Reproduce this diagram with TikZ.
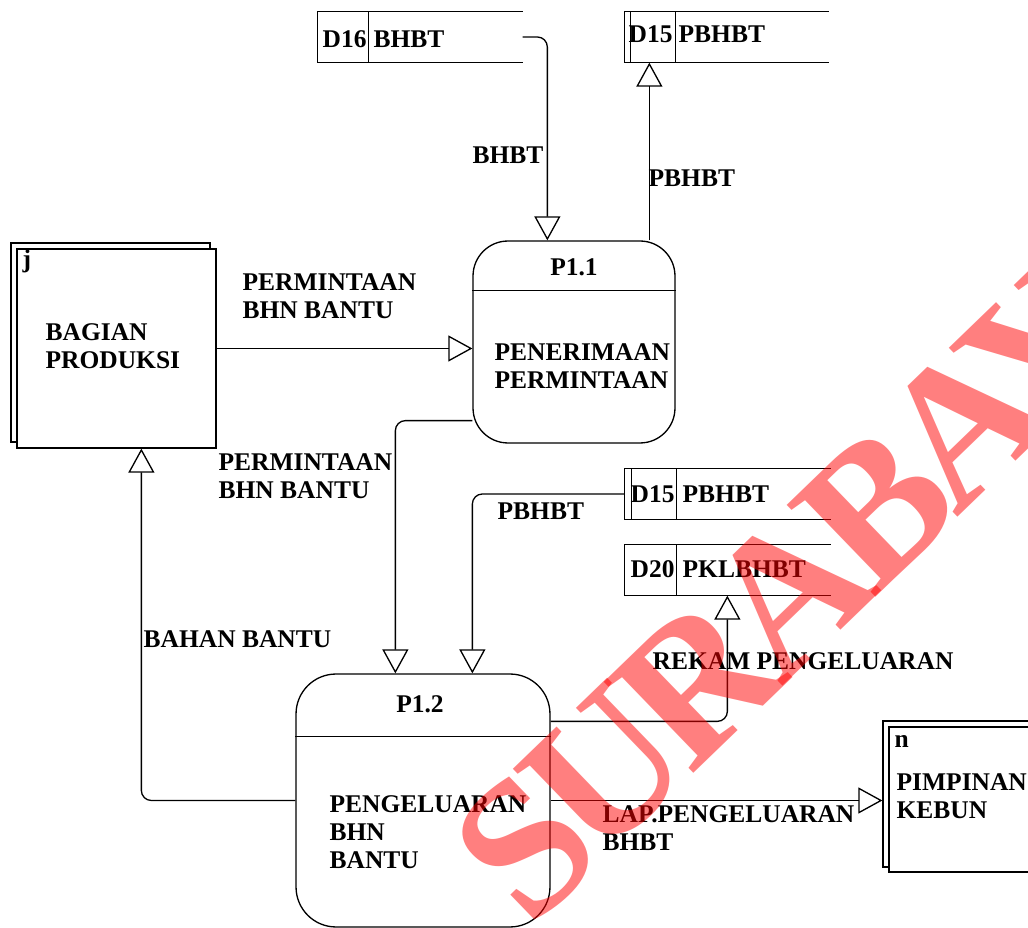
\documentclass[tikz,border=0pt]{standalone}
\usepackage{fontspec}
\setmainfont{Liberation Serif}
\usetikzlibrary{arrows.meta,positioning,calc}

\begin{document}
\begin{tikzpicture}[
  x=0.02cm,y=-0.02cm,
  line width=0.75pt,
  lbl/.style={anchor=north west, inner sep=0pt, align=left, font=\fontsize{14.5}{15.9}\selectfont\bfseries},
  proc/.style={draw, rectangle, inner sep=0pt},
  ext/.style={draw, fill=white, rectangle, inner sep=0pt},
  store/.style={rectangle, inner sep=0pt, minimum height=1cm},
  flow/.style={-{Triangle[open,length=4.8mm,width=5.2mm]}, rounded corners=0.2cm},
  wm/.style={inner sep=0pt, text=red, text opacity=0.5, rotate=44, font=\fontsize{111}{111}\selectfont\bfseries\addfontfeature{LetterSpace=-7}}
]
\useasboundingbox (0,0) rectangle (1028,928);
% data stores
\node[store, minimum width=4.08cm] (d16) at (420,37) {};
\node[store, minimum width=4.06cm] (d15a) at (726.5,37) {};
\node[store, minimum width=4.10cm] (d15b) at (727.5,494) {};
\node[store, minimum width=4.10cm] (d20) at (727.5,570) {};
\draw (d16.north east) -- (d16.north west) -- (d16.south west) -- (d16.south east);
\draw ($(d16.north west)+(51,0)$) -- ($(d16.south west)+(51,0)$);
\draw (d15a.north east) -- (d15a.north west) -- (d15a.south west) -- (d15a.south east);
\draw ($(d15a.north west)+(6,0)$) -- ($(d15a.south west)+(6,0)$);
\draw ($(d15a.north west)+(51,0)$) -- ($(d15a.south west)+(51,0)$);
\draw (d15b.north east) -- (d15b.north west) -- (d15b.south west) -- (d15b.south east);
\draw ($(d15b.north west)+(7,0)$) -- ($(d15b.south west)+(7,0)$);
\draw ($(d15b.north west)+(52,0)$) -- ($(d15b.south west)+(52,0)$);
\draw (d20.north east) -- (d20.north west) -- (d20.south west) -- (d20.south east);
\draw ($(d20.north west)+(52,0)$) -- ($(d20.south west)+(52,0)$);
\node[lbl] (d16id) at (322,30) {D16};
\node[lbl] (d16nm) at (373,30) {BHBT};
\node[lbl] (d15aid) at (628,25) {D15};
\node[lbl] (d15anm) at (678,25) {PBHBT};
\node[lbl] (d15bid) at (630,485) {D15};
\node[lbl] (d15bnm) at (682,485) {PBHBT};
\node[lbl] (d20id) at (630,560) {D20};
\node[lbl] (d20nm) at (682,560) {PKLBHBT};
% external entities
\node[ext, minimum width=3.98cm, minimum height=3.98cm] (bagianb) at (110.5,342.5) {};
\node[ext, minimum width=3.98cm, minimum height=3.98cm] (bagian) at (116.5,348.5) {};
\node[lbl, anchor=base west] (bagianid) at (22,268) {j};
\node[lbl] (bagiannm) at (45,323) {BAGIAN\\PRODUKSI};
\node[ext, minimum width=3.14cm, minimum height=2.92cm] (pimpinanb) at (961.5,794) {};
\node[ext, minimum width=3.14cm, minimum height=2.90cm] (pimpinan) at (967.5,799.5) {};
\node[lbl, anchor=base west] (pimpinanid) at (894,747) {n};
\node[lbl] (pimpinannm) at (896,773) {PIMPINAN\\KEBUN};
% processes
\node[proc, rounded corners=0.7cm, minimum width=4.04cm, minimum height=4.04cm] (p11) at (574,342) {};
\draw ($(p11.north west)+(0,50)$) -- ($(p11.north east)+(0,50)$);
\node[lbl, anchor=base] (p11id) at (574,276) {P1.1};
\node[lbl] (p11nm) at (494,343) {PENERIMAAN\\PERMINTAAN};
\node[proc, rounded corners=0.8cm, minimum width=5.08cm, minimum height=5.06cm] (p12) at (423,800.5) {};
\draw ($(p12.north west)+(0,63)$) -- ($(p12.north east)+(0,63)$);
\node[lbl, anchor=base] (p12id) at (420,713) {P1.2};
\node[lbl] (p12nm) at (329,795) {PENGELUARAN\\BHN\\BANTU};
% flows
\coordinate (p11in) at ($(p11.north west)+(75,0)$);
\coordinate (p11out) at ($(p11.north west)+(177,0)$);
\coordinate (p11low) at ($(p11.south west)+(0,-23)$);
\coordinate (p12ina) at ($(p12.north west)+(100,0)$);
\coordinate (p12inb) at ($(p12.north west)+(177,0)$);
\coordinate (p12rek) at ($(p12.north east)+(0,48)$);
\coordinate (d20in) at ($(d20.south west)+(103,0)$);
\coordinate (bagianin) at ($(bagian.south west)+(125,0)$);
\draw[flow] (d16.east) -| (p11in);
\draw[flow] (p11out) -- (p11out |- d15a.south);
\draw[flow] (bagian.east) -- (bagian.east -| p11.west);
\draw[flow] (p11low) -| (p12ina);
\draw[flow] (d15b.west) -| (p12inb);
\draw[flow] (p12rek) -| (d20in);
\draw[flow] (p12.east) -- (p12.east -| pimpinanb.west);
\draw[flow] (p12.west) -| (bagianin);
\node[lbl] (f1) at (472,146) {BHBT};
\node[lbl] (f2) at (648,169) {PBHBT};
\node[lbl] (f3) at (242,273) {PERMINTAAN\\BHN BANTU};
\node[lbl] (f4) at (218,453) {PERMINTAAN\\BHN BANTU};
\node[lbl] (f5) at (497,502) {PBHBT};
\node[lbl] (f6) at (143,630) {BAHAN BANTU};
\node[lbl] (f7) at (652,652) {REKAM PENGELUARAN};
\node[lbl] (f8) at (602,805) {LAP.PENGELUARAN\\BHBT};
% watermark
\begin{scope}
\clip (0,0) rectangle (1028,928);
\node[wm, anchor=base west] (wmark) at (530,931) {SURABAYA};
\end{scope}
\end{tikzpicture}
\end{document}
